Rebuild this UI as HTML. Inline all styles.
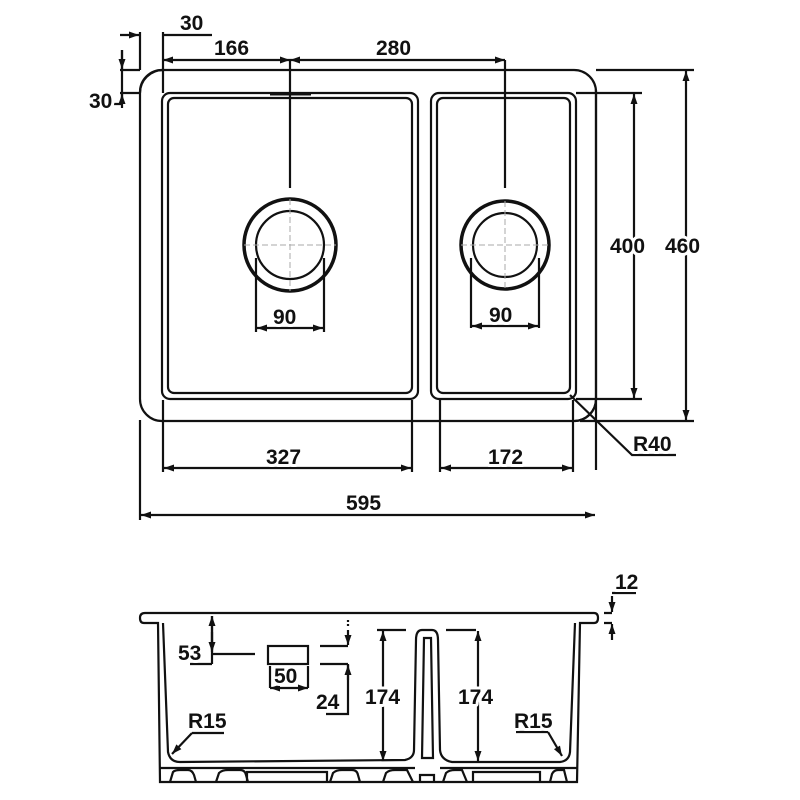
<!DOCTYPE html>
<html><head><meta charset="utf-8"><style>
html,body{margin:0;padding:0;background:#fff;}
svg{display:block}
text{font-family:"Liberation Sans",sans-serif;font-weight:bold;font-size:21px;fill:#111;stroke:#fff;stroke-width:6px;paint-order:stroke;stroke-linejoin:round}
</style></head><body>
<svg width="800" height="800" viewBox="0 0 800 800" xmlns="http://www.w3.org/2000/svg">
<defs>
<marker id="a" viewBox="0 0 10 10" refX="10" refY="5" markerWidth="10" markerHeight="10" orient="auto-start-reverse" markerUnits="userSpaceOnUse"><path d="M0,1.5 L10,5 L0,8.5z" fill="#111"/></marker>
</defs>
<g fill="none" stroke="#111" stroke-width="2.2">
<rect x="140" y="70" width="456" height="351" rx="22"/>
<rect x="162" y="93" width="256" height="306" rx="8"/>
<rect x="168" y="98" width="244" height="295" rx="6"/>
<rect x="431" y="93" width="145" height="306" rx="8"/>
<rect x="437" y="98" width="133" height="295" rx="6"/>
<circle cx="290" cy="245" r="46" stroke-width="3.5"/>
<circle cx="290" cy="245" r="34"/>
<circle cx="505" cy="245" r="44" stroke-width="3.5"/>
<circle cx="505" cy="245" r="32"/>
<g stroke-width="1" stroke="#aaa" stroke-dasharray="6 3">
<line x1="244" y1="245" x2="336" y2="245"/><line x1="290" y1="199" x2="290" y2="291"/>
<line x1="461" y1="245" x2="549" y2="245"/><line x1="505" y1="201" x2="505" y2="289"/>
</g>
<line x1="290" y1="60" x2="290" y2="188"/>
<line x1="505" y1="60" x2="505" y2="188"/>
<line x1="270" y1="94" x2="311" y2="94" stroke-width="3"/>
<path d="M256 258 V332 M324 258 V332 M471 258 V328 M539 258 V328"/>
<line x1="257" y1="328" x2="323" y2="328" marker-start="url(#a)" marker-end="url(#a)"/>
<line x1="472" y1="326" x2="538" y2="326" marker-start="url(#a)" marker-end="url(#a)"/>
<line x1="163" y1="60" x2="290" y2="60" marker-start="url(#a)" marker-end="url(#a)"/>
<line x1="290" y1="60" x2="505" y2="60" marker-start="url(#a)" marker-end="url(#a)"/>
<path d="M163 32 V93 M140 32 V70 M163 35 H212 M120 70 H140 M120 93 H140 M122 50 V100 M100 104 H122"/>
<line x1="120" y1="35" x2="139" y2="35" marker-end="url(#a)"/>
<line x1="122" y1="50" x2="122" y2="69" marker-end="url(#a)"/>
<line x1="122" y1="108" x2="122" y2="94" marker-end="url(#a)"/>
<path d="M140 93 A23 23 0 0 1 163 70" />
<path d="M576 93 H642 M576 399 H642 M596 70 H694 M580 421 H694"/>
<line x1="634" y1="94" x2="634" y2="398" marker-start="url(#a)" marker-end="url(#a)"/>
<line x1="686" y1="71" x2="686" y2="420" marker-start="url(#a)" marker-end="url(#a)"/>
<path d="M570 395 L632 455 H676"/>
<path d="M596 90 V470 M575 421 A22 22 0 0 0 596 400"/>
<path d="M163 400 V472 M412 400 V472 M440 400 V472 M573 400 V472 M140 420 V520"/>
<line x1="164" y1="468" x2="411" y2="468" marker-start="url(#a)" marker-end="url(#a)"/>
<line x1="441" y1="468" x2="572" y2="468" marker-start="url(#a)" marker-end="url(#a)"/>
<line x1="141" y1="515" x2="595" y2="515" marker-start="url(#a)" marker-end="url(#a)"/>

<path d="M145 613 H594 Q598 613 598 618 Q598 623 594 623 H580 L577 782 H160 L158 623 H144 Q140 623 140 618 Q140 613 145 613z"/>
<path d="M163 623 L168 752 Q170 762 180 762 L405 760 Q414 758 414 750 L416 640 Q416 630 422 630 H432 Q438 630 438 640 L440 750 Q441 760 452 762 L560 762 Q569 761 570 752 L575 623"/>
<path d="M424 638 H431 L433 758 H422z"/>
<path d="M160 768 H415 M440 768 H577"/>
<path d="M170 782 L173 772 Q175 770 180 770 H188 Q192 770 194 775 L196 782"/>
<path d="M216 782 L219 773 Q222 770 228 770 H240 Q245 770 246 775 L248 782"/>
<path d="M247 782 V772 H327 V782"/>
<path d="M330 782 L333 773 Q336 770 342 770 H352 Q357 770 358 775 L360 782"/>
<path d="M383 782 L386 773 Q389 770 395 770 H407 L413 782"/>
<path d="M420 782 V775 H434 V782"/>
<path d="M443 782 L446 773 Q449 770 455 770 H462 L467 782"/>
<path d="M473 782 V772 H540 V782"/>
<path d="M550 782 L552 774 Q554 770 558 770 H564 L567 782"/>
<line x1="212" y1="650" x2="212" y2="616" marker-end="url(#a)"/>
<line x1="212" y1="632" x2="212" y2="652" marker-end="url(#a)"/>
<path d="M212 654 H255 M190 664 H212 M212 616 V664"/>
<rect x="268" y="646" width="40" height="18"/>
<path d="M270 666 V688 M308 666 V688 M320 646 H348 M320 664 H348 M348 664 V714 H326"/>
<path d="M348 620 V628" stroke-dasharray="2 2"/>
<line x1="270" y1="688" x2="308" y2="688" marker-start="url(#a)" marker-end="url(#a)"/>
<line x1="348" y1="630" x2="348" y2="645" marker-end="url(#a)"/>
<line x1="348" y1="680" x2="348" y2="665" marker-end="url(#a)"/>
<path d="M377 630 H406 M446 630 H476"/>
<line x1="383" y1="631" x2="383" y2="761" marker-start="url(#a)" marker-end="url(#a)"/>
<line x1="478" y1="631" x2="478" y2="761" marker-start="url(#a)" marker-end="url(#a)"/>
<path d="M224 733 H192"/>
<line x1="192" y1="733" x2="172" y2="754" marker-end="url(#a)"/>
<path d="M516 732 H548"/>
<line x1="548" y1="732" x2="562" y2="756" marker-end="url(#a)"/>
<path d="M612 593 H636 M604 613 H612 M604 623 H612"/>
<line x1="612" y1="596" x2="612" y2="612" marker-end="url(#a)"/>
<line x1="612" y1="640" x2="612" y2="624" marker-end="url(#a)"/>
</g>
<text x="180" y="30">30</text>
<text x="214" y="55">166</text>
<text x="376" y="55">280</text>
<text x="89" y="108">30</text>
<text x="273" y="324">90</text>
<text x="489" y="322">90</text>
<text x="610" y="253">400</text>
<text x="665" y="253">460</text>
<text x="633" y="451">R40</text>
<text x="266" y="464">327</text>
<text x="488" y="464">172</text>
<text x="346" y="510">595</text>
<text x="178" y="660">53</text>
<text x="274" y="683">50</text>
<text x="316" y="709">24</text>
<text x="365" y="704">174</text>
<text x="458" y="704">174</text>
<text x="188" y="728">R15</text>
<text x="514" y="728">R15</text>
<text x="615" y="589">12</text>
</svg>
</body></html>
